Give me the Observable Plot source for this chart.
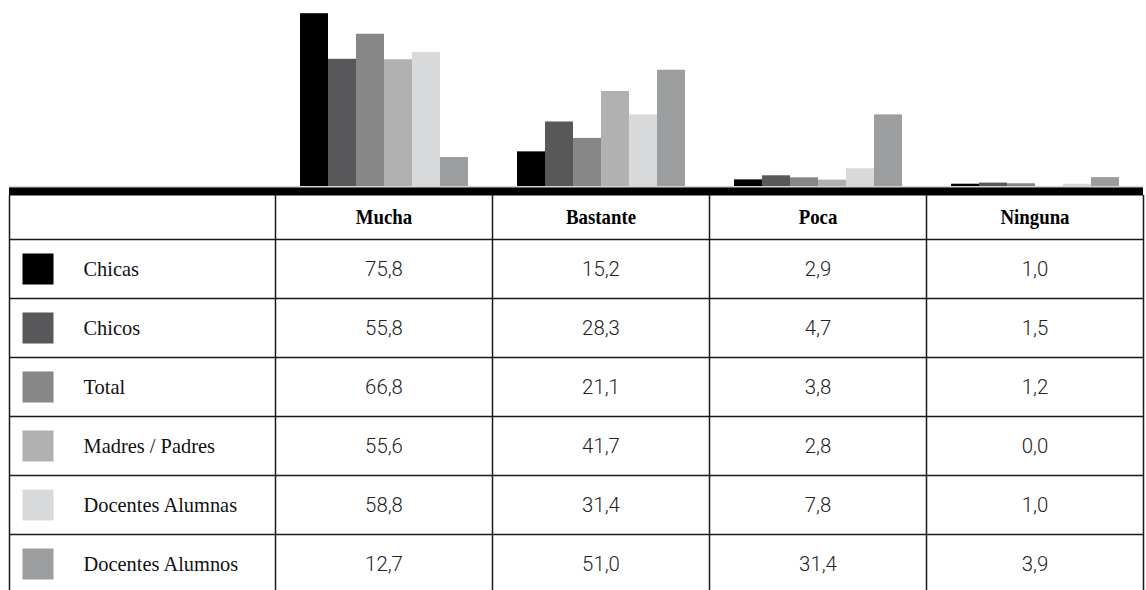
<!DOCTYPE html>
<html>
<head>
<meta charset="utf-8">
<script src="https://cdn.jsdelivr.net/npm/d3@7"></script>
<script src="https://cdn.jsdelivr.net/npm/@observablehq/plot@0.6"></script>
<style>
  html, body { margin: 0; padding: 0; background: #fff; }
  #chart svg { display: block; }
</style>
</head>
<body>
<div id="chart"></div>
<script>
// ---- data ----
const categories = ["Mucha", "Bastante", "Poca", "Ninguna"];
const seriesNames = ["Chicas", "Chicos", "Total", "Madres / Padres", "Docentes Alumnas", "Docentes Alumnos"];
const chicas = [75.8, 15.2, 2.9, 1.0];
const chicos = [55.8, 28.3, 4.7, 1.5];
const total = [66.8, 21.1, 3.8, 1.2];
const madresPadres = [55.6, 41.7, 2.8, 0.0];
const docentesAlumnas = [58.8, 31.4, 7.8, 1.0];
const docentesAlumnos = [12.7, 51.0, 31.4, 3.9];
const seriesValues = [chicas, chicos, total, madresPadres, docentesAlumnas, docentesAlumnos];
const colors = ["#000000", "#58585a", "#878787", "#b1b1b1", "#d8d9da", "#9c9d9e"];

const longData = seriesNames.flatMap((s, j) =>
  seriesValues[j].map((v, i) => ({cat: categories[i], catIndex: i, series: s, rowIndex: j, value: v}))
);
const fmt = v => v.toFixed(1).replace(".", ",");

// ---- layout constants ----
const W = 1146;
const barH = 186;
const tableH = 590 - barH;
const rowPx = 59, headerPx = 44, bandPx = 9, labelPx = 266, colPx = 217;
const labelUnits = labelPx / colPx;
const yTop = -(headerPx + bandPx) / rowPx;
const yBottom = yTop + tableH / rowPx;
const headerY = -headerPx / rowPx / 2;
const swatchX = -labelUnits + 28.5 / colPx;
const labelX = -labelUnits + 74 / colPx;

const serif = "'Liberation Serif', 'Times New Roman', serif";
const sans = "Roboto, 'Liberation Sans', sans-serif";

// ---- bar chart ----
const bars = Plot.plot({
  width: W, height: barH,
  marginLeft: 9 + labelPx, marginRight: 3, marginTop: 0, marginBottom: 0,
  facet: {data: longData, x: "cat"},
  fx: {domain: categories, padding: 0, axis: null, label: null},
  x: {domain: seriesNames, paddingInner: 0, paddingOuter: 0.79, axis: null},
  y: {domain: [0, 81.6], axis: null},
  color: {domain: seriesNames, range: colors},
  marks: [
    Plot.barY(longData, {x: "series", y: "value", fill: "series"})
  ]
});

// ---- table ----
const table = Plot.plot({
  width: W, height: tableH,
  marginLeft: 9, marginRight: 3, marginTop: 0, marginBottom: 0,
  x: {domain: [-labelUnits, categories.length], axis: null},
  y: {domain: [yTop, yBottom], reverse: true, axis: null},
  color: {domain: seriesNames, range: colors},
  style: {background: "white"},
  marks: [
    Plot.ruleY([yTop], {stroke: "#a8a8a8", strokeWidth: 1, dy: 0.5}),
    Plot.ruleY([yTop + (1 + (bandPx - 1) / 2) / rowPx], {stroke: "#000", strokeWidth: bandPx - 1}),
    Plot.ruleY(d3.range(0, seriesNames.length + 1), {stroke: "#1a1a1a", strokeWidth: 1.5}),
    Plot.ruleX([-labelUnits, ...d3.range(0, categories.length + 1)], {
      y1: -headerPx / rowPx, y2: seriesNames.length, stroke: "#1a1a1a", strokeWidth: 1.5
    }),
    Plot.text(categories, {
      x: (d, i) => i + 0.5, y: headerY, text: d => d,
      fontFamily: serif, fontWeight: "bold", fontSize: 21.5, fill: "#000",
      ariaDescription: "header"
    }),
    Plot.text(longData, {
      x: d => d.catIndex + 0.5, y: d => d.rowIndex + 0.5, text: d => fmt(d.value),
      fontFamily: sans, fontWeight: 300, fontSize: 21, fill: "#222",
      ariaDescription: "values"
    }),
    Plot.dot(seriesNames, {
      x: swatchX, y: (d, i) => i + 0.5, fill: d => d, symbol: "square", r: 17.5, stroke: null
    }),
    Plot.text(seriesNames, {
      x: labelX, y: (d, i) => i + 0.5, text: d => d, textAnchor: "start",
      fontFamily: serif, fontSize: 21.5, fill: "#111",
      ariaDescription: "labels"
    })
  ]
});

// horizontal compression of the condensed type: wrap each text in a <g>
// and scale that wrapper around its own box (keeps Plot's positioning intact)
function squeeze(svg, label, k, origin) {
  svg.querySelectorAll(`g[aria-description="${label}"] text`).forEach(t => {
    const w = document.createElementNS("http://www.w3.org/2000/svg", "g");
    t.parentNode.insertBefore(w, t);
    w.appendChild(t);
    w.style.transformBox = "fill-box";
    w.style.transformOrigin = origin;
    w.style.transform = `scaleX(${k})`;
  });
}

const chart = document.getElementById("chart");
chart.append(bars, table);

squeeze(table, "header", 0.875, "center");
squeeze(table, "labels", 0.95, "left center");
squeeze(table, "values", 0.97, "center");
</script>
</body>
</html>
